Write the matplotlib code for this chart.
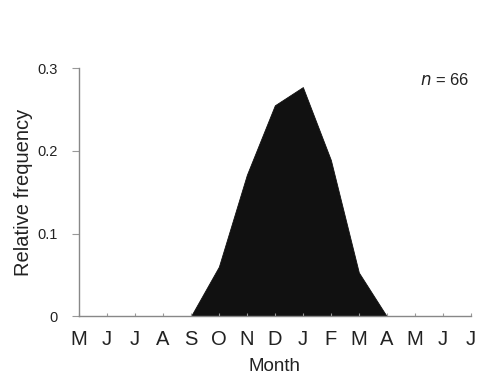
import matplotlib.pyplot as plt

months = ['M', 'J', 'J', 'A', 'S', 'O', 'N', 'D', 'J', 'F', 'M', 'A', 'M', 'J', 'J']
freq = [0, 0, 0, 0, 0, 0.06, 0.171, 0.255, 0.277, 0.189, 0.053, 0, 0, 0, 0]
y_ticks = [0, 0.1, 0.2, 0.3]
y_labels = ['0', '0.1', '0.2', '0.3']

plt.rcParams['font.family'] = ['Liberation Sans', 'DejaVu Sans']

fig = plt.figure(figsize=(4.78, 3.78), dpi=100)
ax = fig.add_axes([0.165, 0.163, 0.82, 0.657])

x = list(range(len(months)))
ax.fill_between(x, freq, 0, color='#111111', lw=0.6, edgecolor='#111111')

ax.set_xlim(0, len(months) - 1)
ax.set_ylim(0, 0.3)
ax.set_xticks(x)
ax.set_xticklabels(months, fontsize=14.5, color='#222222')
ax.set_yticks(y_ticks)
ax.set_yticklabels(y_labels, fontsize=10.5, color='#222222')

for s in ['top', 'right']:
    ax.spines[s].set_visible(False)
for s in ['left', 'bottom']:
    ax.spines[s].set_color('#888888')
    ax.spines[s].set_linewidth(1.0)
ax.tick_params(axis='x', direction='in', length=2, color='#999999', pad=10)
ax.tick_params(axis='y', direction='out', length=5, color='#999999', pad=10)

ax.set_xlabel('Month', fontsize=13.5, color='#222222', labelpad=6)
ax.set_ylabel('Relative frequency', fontsize=14.5, color='#222222', labelpad=3)

ax.text(0.995, 0.985, r'$\it{n}$ = 66', transform=ax.transAxes, ha='right', va='top',
        fontsize=12, color='#222222')

fig.savefig('out.png', dpi=100)
